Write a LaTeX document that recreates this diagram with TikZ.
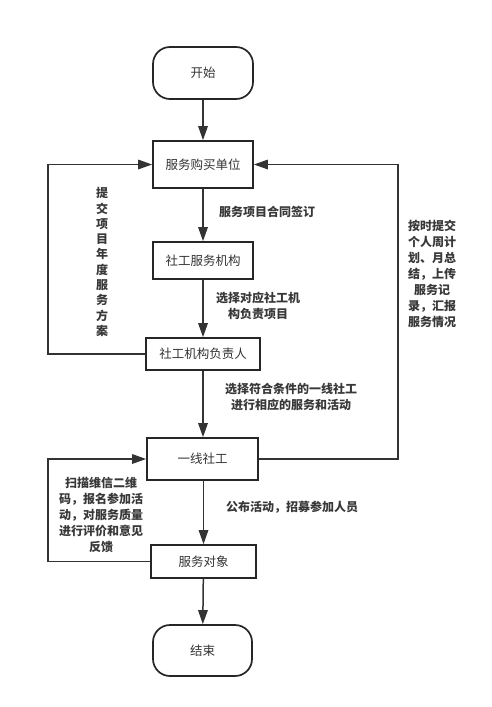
\documentclass[tikz,border=0pt]{standalone}
\usepackage{fontspec}
\setmainfont{Noto Sans CJK SC}
\usetikzlibrary{arrows.meta}
\begin{document}
\begin{tikzpicture}[x=1pt,y=-1pt,
  box/.style={draw=black!85,line width=1.7pt,fill=white,inner sep=0pt,font=\fontsize{12.5}{15}\selectfont,text=black!80},
  term/.style={box,rounded corners=17pt},
  conn/.style={draw=black!80,line width=1.5pt},
  arr/.style={conn,-{Triangle[length=14pt,width=9.5pt]}},
  lbl/.style={font=\fontsize{12}{16}\selectfont\bfseries,text=black!78,align=center,inner sep=0pt}]
\useasboundingbox (0,0) rectangle (492,707);
\node[term,minimum width=100pt,minimum height=52pt] (start) at (203,73) {开始};
\node[box,minimum width=100pt,minimum height=47pt] (buyer) at (203,164.5) {服务购买单位};
\node[box,minimum width=100pt,minimum height=37pt] (org) at (203,260.5) {社工服务机构};
\node[box,minimum width=114pt,minimum height=32pt] (head) at (203,354) {社工机构负责人};
\node[box,minimum width=111pt,minimum height=42pt] (worker) at (202.5,459) {一线社工};
\node[box,minimum width=105pt,minimum height=33pt] (client) at (203.5,561.5) {服务对象};
\node[term,minimum width=99pt,minimum height=51pt] (end) at (202.5,650.5) {结束};

\coordinate (lt) at (48,164.5);
\coordinate (lb) at (48,354);
\coordinate (rt) at (398,164.5);
\coordinate (rb) at (398,459);
\coordinate (lt2) at (48,459);
\coordinate (lb2) at (48,561.5);

\draw[arr] (start) -- (buyer);
\draw[arr] (buyer) -- (org);
\draw[arr] (org) -- (head);
\draw[arr] (head.south) -- (head.south |- worker.north);
\draw[arr] (worker.south -| client.north) -- (client);
\draw[arr] (client) -- (end);
\draw[arr] (head.west) -- (lb) -- (lt) -- (buyer.west);
\draw[arr] (worker.east) -- (rb) -- (rt) -- (buyer.east);
\draw[arr] (client.west) -- (lb2) -- (lt2) -- (worker.west);

\node[lbl,anchor=west] (l1) at (219,212) {服务项目合同签订};
\node[lbl] (l2) at (258,305.5) {选择对应社工机\\构负责项目};
\node[lbl,font=\fontsize{12}{15.3}\selectfont\bfseries] (l3) at (102,262) {提\\交\\项\\目\\年\\度\\服\\务\\方\\案};
\node[lbl] (l4) at (291,396.5) {选择符合条件的一线社工\\进行相应的服务和活动};
\node[lbl] (l5) at (432,274) {按时提交\\个人周计\\划、月总\\结，上传\\服务记\\录，汇报\\服务情况};
\node[lbl] (l6) at (292,507) {公布活动，招募参加人员};
\node[lbl] (l7) at (101,515) {扫描维信二维\\码，报名参加活\\动，对服务质量\\进行评价和意见\\反馈};
\end{tikzpicture}
\end{document}
